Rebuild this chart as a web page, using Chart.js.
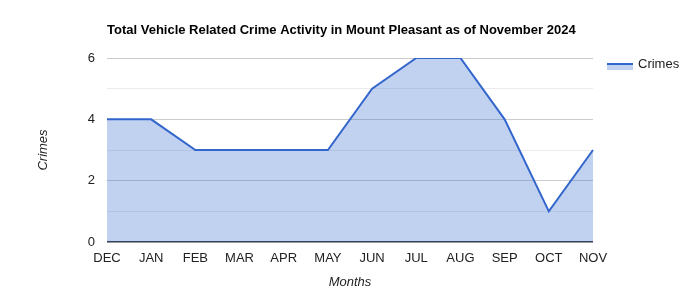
<!DOCTYPE html>
<html><head><meta charset="utf-8">
<script src="https://cdn.jsdelivr.net/npm/chart.js@4/dist/chart.umd.min.js"></script>
<style>html,body{margin:0;padding:0;background:#fff}#wrap{width:700px;height:300px}</style>
</head><body><div id="wrap"><canvas id="c" width="700" height="300"></canvas></div>
<script>
const chartTitle = "Total Vehicle Related Crime Activity in Mount Pleasant as of November 2024";
const months = ["DEC","JAN","FEB","MAR","APR","MAY","JUN","JUL","AUG","SEP","OCT","NOV"];
const crimes = [4,4,3,3,3,3,5,6,6,4,1,3];
const seriesName = "Crimes";
const yTitle = "Crimes";
const xTitle = "Months";
const yMax = 6;

const FONT = "'Liberation Sans', Arial, sans-serif";
const LINE = "#3366cc";
const FILL = "rgba(51,102,204,0.3)";

const decor = {
  id: 'decor',
  afterDraw(chart) {
    const ctx = chart.ctx, a = chart.chartArea;
    ctx.save();
    ctx.fillStyle = '#000';
    ctx.font = "bold 13px " + FONT;
    ctx.textAlign = 'left'; ctx.textBaseline = 'middle';
    ctx.fillText(chartTitle, 107, 30);
    ctx.fillStyle = '#222';
    ctx.font = "italic 13px " + FONT;
    ctx.textAlign = 'center';
    ctx.fillText(xTitle, (a.left + a.right) / 2, 282);
    ctx.save();
    ctx.translate(43, (a.top + a.bottom) / 2);
    ctx.rotate(-Math.PI / 2);
    ctx.fillText(yTitle, 0, 0);
    ctx.restore();
    // legend
    ctx.fillStyle = FILL;
    ctx.fillRect(607, 64, 26, 6);
    ctx.strokeStyle = LINE; ctx.lineWidth = 2;
    ctx.beginPath(); ctx.moveTo(607, 64); ctx.lineTo(633, 64); ctx.stroke();
    ctx.fillStyle = '#222';
    ctx.font = "13px " + FONT;
    ctx.textAlign = 'left';
    ctx.fillText(seriesName, 638, 64);
    ctx.restore();
  }
};

new Chart(document.getElementById('c'), {
  type: 'line',
  data: {
    labels: months,
    datasets: [{
      label: seriesName,
      data: crimes,
      borderColor: LINE,
      backgroundColor: FILL,
      borderWidth: 2,
      fill: 'origin',
      pointRadius: 0,
      tension: 0
    }]
  },
  options: {
    responsive: false,
    animation: false,
    layout: { padding: { left: 0, right: 107, top: 58, bottom: 0 } },
    plugins: { legend: { display: false }, title: { display: false }, tooltip: { enabled: false } },
    scales: {
      x: {
        offset: false,
        grid: { display: false },
        border: { display: false },
        ticks: { color: '#222', font: { family: FONT, size: 13 }, padding: 1, maxRotation: 0, autoSkip: false },
        afterFit(s) { s.height = 58; }
      },
      y: {
        min: 0, max: yMax,
        border: { display: false },
        grid: {
          color: c => c.tick.value === 0 ? '#333' : (c.tick.value % 2 === 0 ? '#cccccc' : '#ebebeb'),
          lineWidth: c => c.tick.value === 0 ? 1.5 : 1,
          drawTicks: false
        },
        ticks: {
          stepSize: 1,
          color: '#222', font: { family: FONT, size: 13 }, padding: 12,
          callback: v => v % 2 === 0 ? String(v) : ''
        },
        afterFit(s) { s.width = 107; }
      }
    }
  },
  plugins: [decor]
});
</script></body></html>
